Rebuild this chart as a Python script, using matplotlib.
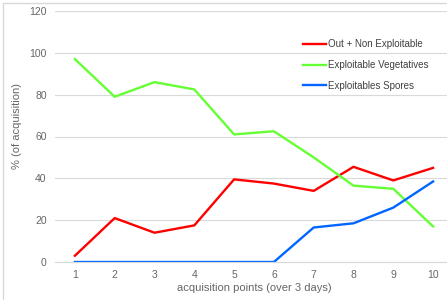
import matplotlib.pyplot as plt
from matplotlib.patches import Rectangle

points = [1, 2, 3, 4, 5, 6, 7, 8, 9, 10]
out_non_exploitable = [3, 21, 14, 17.5, 39.5, 37.5, 34, 45.5, 39, 45]
exploitable_vegetatives = [97, 79, 86, 82.5, 61, 62.5, 50, 36.5, 35, 17]
exploitable_spores = [0, 0, 0, 0, 0, 0, 16.5, 18.5, 26, 38.5]

plt.rcParams['font.family'] = ['Liberation Sans', 'DejaVu Sans']

fig = plt.figure(figsize=(4.47, 3.0), dpi=100)
ax = fig.add_axes([55 / 447, 38 / 300, 398 / 447, 251 / 300])

ax.plot(points, out_non_exploitable, color='#FF0000', lw=1.7, label='Out + Non Exploitable')
ax.plot(points, exploitable_vegetatives, color='#66FF33', lw=1.7, label='Exploitable Vegetatives')
ax.plot(points, exploitable_spores, color='#0066FF', lw=1.7, label='Exploitables Spores')

ax.set_xlim(0.5, 10.5)
ax.set_ylim(0, 120)
ax.set_xticks(points)
ax.set_yticks(range(0, 121, 20))
ax.grid(axis='y', color='#D9D9D9', lw=0.8)
ax.set_axisbelow(True)
for s in ['top', 'right', 'left']:
    ax.spines[s].set_visible(False)
ax.spines['bottom'].set_color('#D9D9D9')
ax.tick_params(length=0, labelsize=7.5, labelcolor='#666666', pad=6)
ax.set_xlabel('acquisition points (over 3 days)', fontsize=8, color='#666666', labelpad=2)
ax.set_ylabel('% (of acquisition)', fontsize=8, color='#666666')
ax.yaxis.set_label_coords(-0.083, 0.54)

ax.legend(loc='upper left', bbox_to_anchor=(0.602, 0.922), frameon=False, fontsize=7,
          handlelength=2.3, handletextpad=0.2, labelspacing=1.1, labelcolor='#404040')

fig.patches.append(Rectangle((3 / 447, -0.1), 1.2, (300 - 3) / 300 + 0.1, transform=fig.transFigure,
                             fill=False, edgecolor='#D9D9D9', lw=1))

fig.savefig('out.png', dpi=100)
